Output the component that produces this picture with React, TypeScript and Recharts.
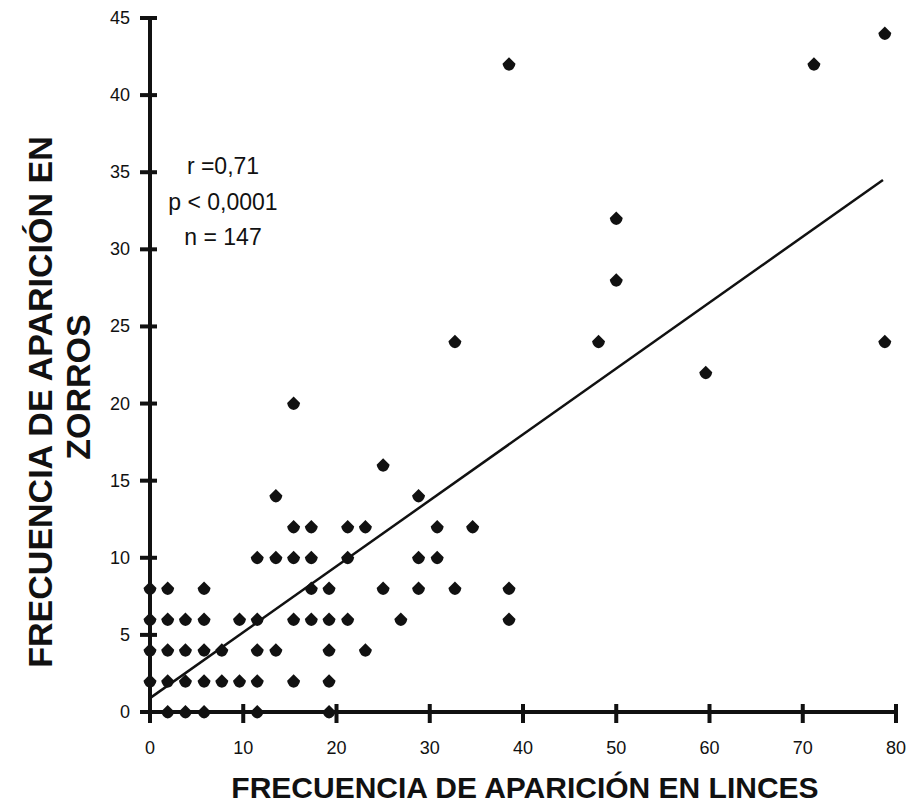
import React from 'react';
import { ScatterChart, Scatter, XAxis, YAxis, ReferenceLine, Customized } from 'recharts';

// Frecuencia de aparición en linces (x) y en zorros (y)
const linceX = [
  78.8,
  38.5, 71.2,
  50.0,
  50.0,
  32.7, 48.1, 78.8,
  59.6,
  15.4,
  25.0,
  13.5, 28.8,
  15.4, 17.3, 21.2, 23.1, 30.8, 34.6,
  11.5, 13.5, 15.4, 17.3, 21.2, 28.8, 30.8,
  0, 1.9, 5.8, 17.3, 19.2, 25.0, 28.8, 32.7, 38.5,
  0, 1.9, 3.8, 5.8, 9.6, 11.5, 15.4, 17.3, 19.2, 21.2, 26.9, 38.5,
  0, 1.9, 3.8, 5.8, 7.7, 11.5, 13.5, 19.2, 23.1,
  0, 1.9, 3.8, 5.8, 7.7, 9.6, 11.5, 15.4, 19.2,
  1.9, 3.8, 5.8, 11.5, 19.2,
];
const zorroY = [
  44,
  42, 42,
  32,
  28,
  24, 24, 24,
  22,
  20,
  16,
  14, 14,
  12, 12, 12, 12, 12, 12,
  10, 10, 10, 10, 10, 10, 10,
  8, 8, 8, 8, 8, 8, 8, 8, 8,
  6, 6, 6, 6, 6, 6, 6, 6, 6, 6, 6, 6,
  4, 4, 4, 4, 4, 4, 4, 4, 4,
  2, 2, 2, 2, 2, 2, 2, 2, 2,
  0, 0, 0, 0, 0,
];

// Recta de regresión (extremos)
const fitX = [0, 78.6];
const fitY = [0.9, 34.5];

const xTicks = [0, 10, 20, 30, 40, 50, 60, 70, 80];
const yTicks = [0, 5, 10, 15, 20, 25, 30, 35, 40, 45];

const statsLines = ['r =0,71', 'p < 0,0001', 'n = 147'];
const xTitle = 'FRECUENCIA DE APARICIÓN EN LINCES';
const yTitleLines = ['FRECUENCIA DE APARICIÓN EN', 'ZORROS'];

const points = linceX.map((x, i) => ({ x, y: zorroY[i] }));

const INK = '#111';
const FONT = "'Liberation Sans', Arial, Helvetica, sans-serif";

const Diamond = (props: any) => {
  const { cx, cy } = props;
  if (cx == null || cy == null) return null;
  const d = `M${cx},${cy - 7} L${cx + 6.5},${cy - 0.5} Q${cx + 5.5},${cy + 5.5} ${cx},${cy + 6.5} Q${cx - 5.5},${cy + 5.5} ${cx - 6.5},${cy - 0.5} Z`;
  return <path d={d} fill={INK} />;
};

const YTick = (props: any) => {
  const { x, y, payload } = props;
  const ax = Number(x);
  const ay = Number(y);
  return (
    <g>
      <rect x={ax - 10} y={ay - 2} width={17} height={4} fill={INK} stroke="none" />
      <text x={ax - 20} y={ay} textAnchor="end" dominantBaseline="central" fontFamily={FONT} fontSize={18} fill={INK} stroke="none">
        {payload.value}
      </text>
    </g>
  );
};

const XTick = (props: any) => {
  const { x, y, payload } = props;
  const ax = Number(x);
  const ay = Number(y);
  return (
    <g>
      <rect x={ax - 2} y={ay - 8} width={4} height={19} fill={INK} stroke="none" />
      <text x={ax} y={ay + 36} textAnchor="middle" dominantBaseline="central" fontFamily={FONT} fontSize={18} fill={INK} stroke="none">
        {payload.value}
      </text>
    </g>
  );
};

const Annotations = () => (
  <g>
    {statsLines.map((s, i) => (
      <text key={s} x={223} y={174 + i * 35.5} textAnchor="middle" fontFamily={FONT} fontSize={23} fill={INK}>
        {s}
      </text>
    ))}
    <text x={525} y={798} textAnchor="middle" fontFamily={FONT} fontWeight="bold" fontSize={30} fill={INK}>
      {xTitle}
    </text>
    <text
      x={40}
      y={402}
      textAnchor="middle"
      dominantBaseline="central"
      transform="rotate(-90, 40, 402)"
      fontFamily={FONT}
      fontWeight="bold"
      fontSize={34}
      fill={INK}
    >
      {yTitleLines[0]}
    </text>
    <text
      x={78}
      y={387}
      textAnchor="middle"
      dominantBaseline="central"
      transform="rotate(-90, 78, 387)"
      fontFamily={FONT}
      fontWeight="bold"
      fontSize={34}
      fill={INK}
    >
      {yTitleLines[1]}
    </text>
  </g>
);

export default function App() {
  return (
    <div style={{ position: 'absolute', left: 0, top: 0, width: 912, height: 809, background: '#fff' }}>
      <ScatterChart width={912} height={809} margin={{ top: 18, right: 16, left: 0, bottom: 0 }}>
        <XAxis
          type="number"
          dataKey="x"
          domain={[0, 80]}
          ticks={xTicks}
          interval={0}
          height={97}
          tickSize={0}
          tickMargin={0}
          tickLine={false}
          axisLine={{ stroke: INK, strokeWidth: 4 }}
          tick={(p: any) => <XTick {...p} />}
        />
        <YAxis
          type="number"
          dataKey="y"
          domain={[0, 45]}
          ticks={yTicks}
          interval={0}
          width={150}
          tickSize={0}
          tickMargin={0}
          tickLine={false}
          axisLine={{ stroke: INK, strokeWidth: 4 }}
          tick={(p: any) => <YTick {...p} />}
        />
        <ReferenceLine
          segment={[
            { x: fitX[0], y: fitY[0] },
            { x: fitX[1], y: fitY[1] },
          ]}
          stroke={INK}
          strokeWidth={2.5}
          ifOverflow="visible"
        />
        <Scatter data={points} shape={<Diamond />} isAnimationActive={false} />
        <Customized component={Annotations} />
      </ScatterChart>
    </div>
  );
}
